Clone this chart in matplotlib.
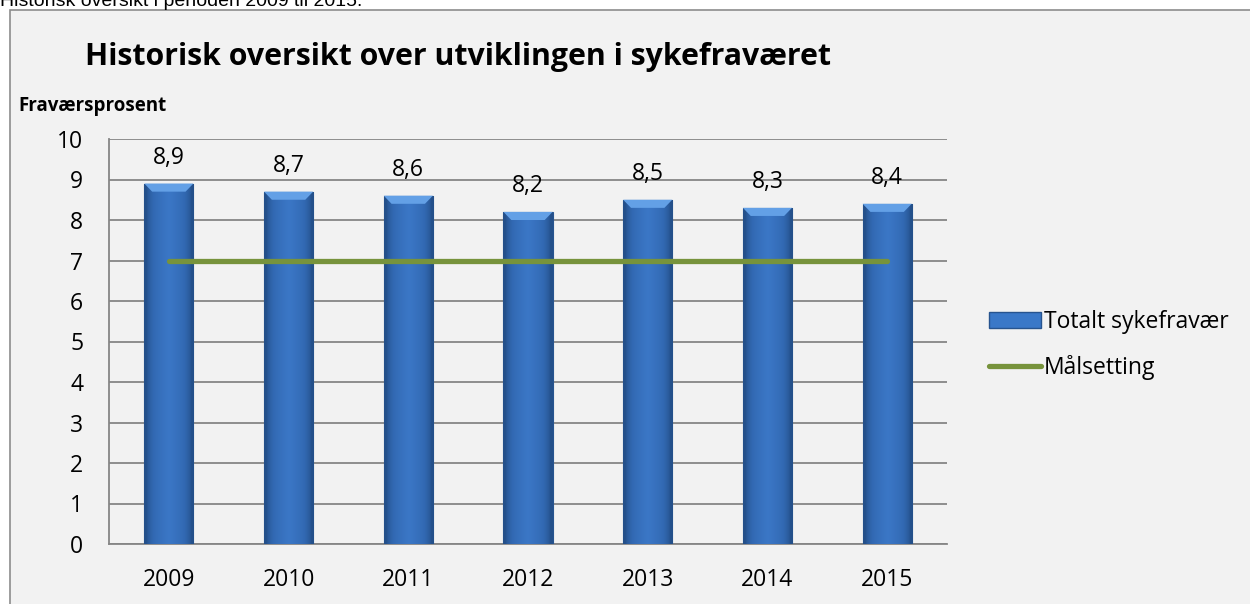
import matplotlib.pyplot as plt
from matplotlib.patches import Rectangle
from matplotlib.lines import Line2D
from matplotlib.colors import LinearSegmentedColormap
import numpy as np

years = ['2009', '2010', '2011', '2012', '2013', '2014', '2015']
fravaer = [8.9, 8.7, 8.6, 8.2, 8.5, 8.3, 8.4]
maal = [7, 7, 7, 7, 7, 7, 7]

font = ['Open Sans', 'DejaVu Sans']
fs = 16.5
bar_color = '#3670bd'
line_color = '#77933c'
grid_color = '#868686'

fig = plt.figure(figsize=(12.5, 6.04), dpi=100)
fig.patch.set_facecolor('white')

# chart frame (runs off right/bottom edges)
frame = Rectangle((10 / 1250, -0.1), 1.2, 1 - 10 / 604 + 0.1,
                  transform=fig.transFigure, facecolor='#f2f2f2',
                  edgecolor='#8c8c8c', linewidth=1.2, zorder=-1)
fig.patches.append(frame)

# cut-off heading above the chart
fig.text(0.0, 1 - 6 / 604, 'Historisk oversikt i perioden 2009 til 2015.',
         family=['Liberation Sans', 'DejaVu Sans'], fontsize=14, va='baseline', ha='left')

ax = fig.add_axes([109 / 1250, 1 - 544 / 604, (947 - 109) / 1250, (544 - 139) / 604])
ax.set_facecolor('none')

x = np.arange(len(years))
bars = ax.bar(x, fravaer, width=0.41, color=bar_color, edgecolor='#27548f',
              linewidth=0.8, zorder=3)

# simple horizontal gradient inside each bar
grad = np.linspace(0, 1, 64)
grad = np.clip(1 - np.abs(grad - 0.5) * 2.2, 0, 1) ** 0.6
grad = np.vstack([grad, grad])
cmap = LinearSegmentedColormap.from_list('b', ['#24508a', '#3269b3', '#3b77c6'])
for b in bars:
    x0, w, h = b.get_x(), b.get_width(), b.get_height()
    im = ax.imshow(grad, extent=[x0, x0 + w, 0, h], aspect='auto', cmap=cmap,
                   vmin=0, vmax=1, zorder=3.5)
    im.set_clip_path(b)
    # bevel highlight at top
    ax.fill([x0, x0 + w, x0 + w * 0.84, x0 + w * 0.16],
            [h, h, h - 0.2, h - 0.2], color='#63a0e6', zorder=3.6, lw=0)

for xi, v in zip(x, fravaer):
    ax.annotate(f'{v:.1f}'.replace('.', ','), (xi, v), xytext=(0, 14),
                textcoords='offset points', ha='center', va='baseline',
                family=font, fontsize=fs)

ax.plot(x, maal, color=line_color, linewidth=3.8, solid_capstyle='round', zorder=4)

ax.set_xlim(-0.5, len(years) - 0.5)
ax.set_ylim(0, 10)
ax.set_yticks(range(0, 11))
ax.set_xticks(x)
ax.set_xticklabels(years)
ax.grid(axis='y', color=grid_color, linewidth=1.3, zorder=1)
ax.tick_params(length=0, labelsize=fs)
ax.tick_params(axis='y', pad=18.5)
ax.tick_params(axis='x', pad=17)
for lab in ax.get_xticklabels() + ax.get_yticklabels():
    lab.set_family(font)
for s in ['top', 'right']:
    ax.spines[s].set_visible(False)
for s in ['left', 'bottom']:
    ax.spines[s].set_color(grid_color)
    ax.spines[s].set_linewidth(1.3)

fig.text(85 / 1250, 1 - 65 / 604, 'Historisk oversikt over utviklingen i sykefraværet',
         family=font, fontsize=21.8, fontweight='bold', va='baseline', ha='left')
fig.text(18 / 1250, 1 - 111 / 604, 'Fraværsprosent', family=font, fontsize=13.5,
         fontweight='bold', va='baseline', ha='left')

handles = [Rectangle((0, 0), 1, 1, facecolor='#3a78c8', edgecolor='#27548f'),
           Line2D([0], [0], color=line_color, linewidth=3.8, solid_capstyle='round')]
leg = fig.legend(handles, ['Totalt sykefravær', 'Målsetting'], loc='center left',
                 bbox_to_anchor=(968 / 1250, 1 - 345 / 604), frameon=False,
                 prop={'family': font, 'size': fs}, handlelength=2.27,
                 handletextpad=0.15, labelspacing=0.95)

fig.savefig('out.png', dpi=100)
